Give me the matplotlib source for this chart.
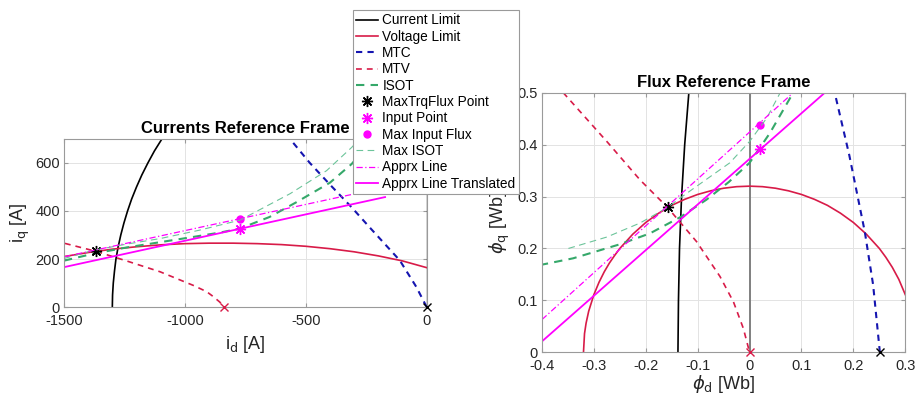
import matplotlib
matplotlib.use('Agg')
import matplotlib.pyplot as plt

plt.rcParams['font.family'] = ['Liberation Sans', 'DejaVu Sans']

# ---- Currents reference frame (id, iq) [A] ----
cl_iq = [0, 50, 100, 150, 200, 250, 300, 350, 400, 450, 500, 550, 600, 650, 700]
cl_id = [-1300, -1299, -1296, -1291, -1285, -1276, -1265, -1252, -1237, -1220, -1200, -1178, -1153, -1126, -1095]
vl_id = [-1500, -1400, -1300, -1200, -1100, -1000, -900, -800, -700, -600, -500, -400, -300, -200, -100, 0]
vl_iq = [210, 227, 241, 251, 259, 264, 266, 266, 264, 260, 253, 243, 230, 213, 192, 164]
mtc_id = [0, -43, -111, -236, -310, -400, -483, -565, -600]
mtc_iq = [0, 84, 194, 332, 415, 510, 600, 700, 740]
mtv_id = [-1496, -1368, -1241, -1103, -965, -910, -882, -855, -840]
mtv_iq = [265, 232, 192, 147, 90, 64, 43, 20, 0]
isot_id = [-1500, -1379, -1241, -1103, -965, -850, -772, -650, -538, -400, -310, -240]
isot_iq = [193, 222, 248, 270, 292, 311, 327, 375, 437, 518, 596, 680]
maxisot_id = [-1500, -1379, -1241, -1103, -940, -772, -565, -414, -310, -260]
maxisot_iq = [202, 236, 262, 285, 320, 362, 472, 568, 665, 720]
apx_id = [-1500, -172]
apx_iq = [209, 499]
apxt_id = [-1500, -172]
apxt_iq = [166, 458]
maxtrq_i = (-1368, 232)
input_i = (-771, 326)
maxflux_i = (-771, 365)
mtv_end_i = (-840, 0)
mtc_end_i = (0, 0)

# ---- Flux reference frame (phid, phiq) [Wb] ----
cl_phid = [-0.138, -0.137, -0.135, -0.131, -0.125, -0.117]
cl_phiq = [0, 0.1, 0.2, 0.3, 0.4, 0.5]
vl_phid = [-0.32, -0.318, -0.315, -0.31, -0.3, -0.29, -0.28, -0.27, -0.26, -0.25, -0.225, -0.2, -0.175,
           -0.15, -0.125, -0.1, -0.075, -0.05, -0.025, 0, 0.025, 0.05, 0.075, 0.1, 0.125, 0.15, 0.175,
           0.2, 0.225, 0.25, 0.2625, 0.275, 0.2875, 0.3]
vl_phiq = [0, 0.036, 0.056, 0.079, 0.111, 0.135, 0.155, 0.172, 0.1865, 0.2, 0.2275, 0.25, 0.268,
           0.283, 0.2946, 0.304, 0.311, 0.316, 0.319, 0.32, 0.319, 0.316, 0.311, 0.304, 0.2946, 0.283, 0.268,
           0.25, 0.2275, 0.2, 0.183, 0.1636, 0.1405, 0.111]
mtc_phid = [0.251, 0.238, 0.222, 0.192, 0.164]
mtc_phiq = [0, 0.13, 0.232, 0.38, 0.5]
mtv_phid = [-0.359, -0.275, -0.211, -0.158, -0.102, -0.057, -0.031, -0.012, 0]
mtv_phiq = [0.5, 0.406, 0.332, 0.279, 0.213, 0.146, 0.097, 0.046, 0]
isot_phid = [-0.404, -0.34, -0.25, -0.192, -0.134, -0.083, -0.04, 0, 0.039, 0.084]
isot_phiq = [0.168, 0.181, 0.208, 0.229, 0.26, 0.294, 0.328, 0.365, 0.422, 0.5]
maxisot_phid = [-0.349, -0.275, -0.211, -0.158, -0.134, -0.089, -0.038, 0, 0.033, 0.059]
maxisot_phiq = [0.2, 0.222, 0.249, 0.279, 0.297, 0.329, 0.365, 0.406, 0.451, 0.5]
apx_phid = [-0.4, 0.084]
apx_phiq = [0.063, 0.5]
apxt_phid = [-0.4, 0.145]
apxt_phiq = [0.021, 0.5]
maxtrq_f = (-0.158, 0.279)
input_f = (0.02, 0.391)
maxflux_f = (0.02, 0.438)
mtv_end_f = (0, 0)
mtc_end_f = (0.252, 0)

labels = ['Current Limit', 'Voltage Limit', 'MTC', 'MTV', 'ISOT', 'MaxTrqFlux Point',
          'Input Point', 'Max Input Flux', 'Max ISOT', 'Apprx Line', 'Apprx Line Translated']

RED = '#d81b48'
BLUE = '#1515b0'
GREEN = '#35a86a'
LGREEN = '#6cc49a'
MAG = '#ff00ff'
AST = (8, 2, 0)


def draw(ax, d):
    h = []
    h += ax.plot(d['cl'][0], d['cl'][1], color='k', lw=1.2)
    h += ax.plot(d['vl'][0], d['vl'][1], color=RED, lw=1.2)
    h += ax.plot(d['mtc'][0], d['mtc'][1], color=BLUE, lw=1.5, ls=(0, (3, 2.5)))
    h += ax.plot(d['mtv'][0], d['mtv'][1], color=RED, lw=1.2, ls=(0, (3.5, 3)))
    h += ax.plot(d['isot'][0], d['isot'][1], color=GREEN, lw=1.5, ls=(0, (4, 3)))
    h += ax.plot(*d['maxtrq'], color='k', marker=AST, ms=8, ls='none', mew=1.0)
    h += ax.plot(*d['input'], color=MAG, marker=AST, ms=8, ls='none', mew=1.0)
    h += ax.plot(*d['maxflux'], color=MAG, marker='o', ms=5, ls='none')
    h += ax.plot(d['maxisot'][0], d['maxisot'][1], color=LGREEN, lw=0.8, ls=(0, (6, 4)))
    h += ax.plot(d['apx'][0], d['apx'][1], color=MAG, lw=0.9, ls=(0, (5, 2, 1, 2)))
    h += ax.plot(d['apxt'][0], d['apxt'][1], color=MAG, lw=1.3)
    ax.plot(*d['mtv_end'], color=RED, marker='x', ms=6, mew=1.0, ls='none', clip_on=False, zorder=5)
    ax.plot(*d['mtc_end'], color='k', marker='x', ms=6, mew=1.0, ls='none', clip_on=False, zorder=5)
    return h


def style(ax):
    ax.grid(True, color='#e3e3e3', lw=0.7)
    ax.set_axisbelow(True)
    for s in ax.spines.values():
        s.set_color('#9a9a9a')
        s.set_linewidth(0.8)
    ax.tick_params(direction='in', length=3, color='#9a9a9a', labelsize=10.5, labelcolor='#262626',
                   top=True, right=True)
    ax.tick_params(axis='x', pad=5)
    ax.tick_params(axis='y', pad=3)


fig = plt.figure(figsize=(9.15, 4.03), dpi=100)
ax1 = fig.add_axes([0.0699, 0.2382, 0.3964, 0.4169])
ax2 = fig.add_axes([0.5923, 0.1258, 0.3971, 0.6442])

d1 = dict(cl=(cl_id, cl_iq), vl=(vl_id, vl_iq), mtc=(mtc_id, mtc_iq), mtv=(mtv_id, mtv_iq),
          isot=(isot_id, isot_iq), maxtrq=maxtrq_i, input=input_i, maxflux=maxflux_i,
          maxisot=(maxisot_id, maxisot_iq), apx=(apx_id, apx_iq), apxt=(apxt_id, apxt_iq),
          mtv_end=mtv_end_i, mtc_end=mtc_end_i)
d2 = dict(cl=(cl_phid, cl_phiq), vl=(vl_phid, vl_phiq), mtc=(mtc_phid, mtc_phiq), mtv=(mtv_phid, mtv_phiq),
          isot=(isot_phid, isot_phiq), maxtrq=maxtrq_f, input=input_f, maxflux=maxflux_f,
          maxisot=(maxisot_phid, maxisot_phiq), apx=(apx_phid, apx_phiq), apxt=(apxt_phid, apxt_phiq),
          mtv_end=mtv_end_f, mtc_end=mtc_end_f)

ax1.axvline(0, color='#333333', lw=1.0, zorder=1)
handles = draw(ax1, d1)
ax2.plot([0, 0], [0, 0.5], color='#808080', lw=1.4, zorder=1)
draw(ax2, d2)

ax1.set_xlim(-1500, 0)
ax1.set_ylim(0, 700)
ax1.set_xticks([-1500, -1000, -500, 0])
ax1.set_yticks([0, 200, 400, 600])
ax1.set_xticklabels(['-1500', '-1000', '-500', '0'])
ax1.set_title('Currents Reference Frame', fontsize=12, fontweight='bold', pad=4)
ax1.set_xlabel(r'i$_\mathrm{d}$ [A]', fontsize=13, color='#262626', labelpad=4)
ax1.set_ylabel(r'i$_\mathrm{q}$ [A]', fontsize=13, color='#262626', labelpad=2)
style(ax1)

ax2.set_xlim(-0.4, 0.3)
ax2.set_ylim(0, 0.5)
xt = [-0.4, -0.3, -0.2, -0.1, 0, 0.1, 0.2, 0.3]
ax2.set_xticks(xt)
ax2.set_xticklabels(['-0.4', '-0.3', '-0.2', '-0.1', '0', '0.1', '0.2', '0.3'])
ax2.set_yticks([0, 0.1, 0.2, 0.3, 0.4, 0.5])
ax2.set_yticklabels(['0', '0.1', '0.2', '0.3', '0.4', '0.5'])
ax2.set_title('Flux Reference Frame', fontsize=12, fontweight='bold', pad=4)
ax2.set_xlabel(r'$\phi_\mathrm{d}$ [Wb]', fontsize=13, color='#262626', labelpad=0)
ax2.set_ylabel(r'$\phi_\mathrm{q}$ [Wb]', fontsize=13, color='#262626', labelpad=4)
style(ax2)

leg = fig.legend(handles, labels, loc='upper left', bbox_to_anchor=(0.3858, 0.975), fontsize=9.8,
                 frameon=True, fancybox=False, framealpha=1, edgecolor='#9a9a9a', handlelength=1.6,
                 handletextpad=0.3, labelspacing=0.17, borderpad=0.25, borderaxespad=0)
leg.get_frame().set_linewidth(0.8)

fig.savefig('out.png', dpi=100)
